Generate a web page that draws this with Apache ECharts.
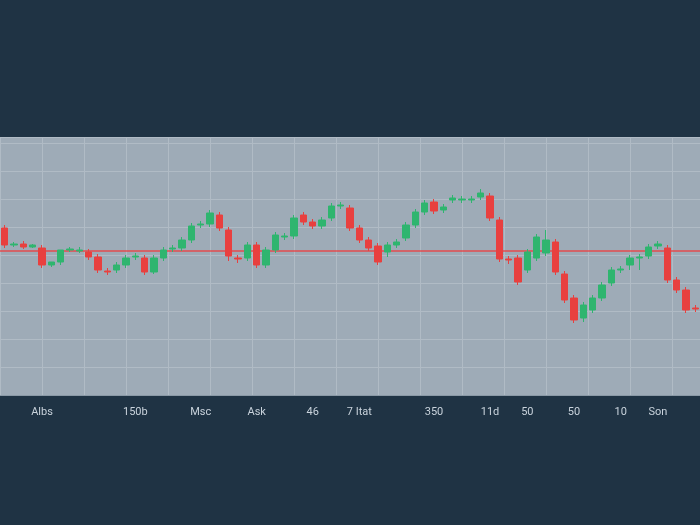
<!DOCTYPE html>
<html><head><meta charset="utf-8">
<script src="https://cdn.jsdelivr.net/npm/echarts@6/dist/echarts.min.js"></script>
<style>html,body{margin:0;background:#1f3344}#c{width:700px;height:525px}</style>
</head><body><div id="c"></div>
<script>
// candles: open / close / low / high
var opens  = [167,150,151,148,147,130,133,145,144,143,138,124,125,130,138,137,123,137,146,147,155,170,171,180,165,137,137,150,130,145,158,159,180,173,169,177,189,187,167,155,149,143,150,157,170,183,193,185,195,195,195,198,199,175,136,137,125,137,142,153,121,97,77,85,97,112,125,130,137,139,149,147,115,105,87];
var closes = [150,151,148,150,130,133,145,146,145,138,125,123,130,137,139,123,137,145,147,155,169,171,182,167,139,136,150,130,145,160,159,177,173,169,175,189,190,167,155,147,133,150,153,170,183,192,184,188,197,196,196,202,177,136,135,113,143,158,155,123,95,75,90,97,110,125,126,137,138,148,151,115,105,85,86];
var lows   = [147,148,146,147,127,128,130,143,142,135,122,120,122,127,135,120,121,134,143,144,152,167,168,164,134,132,134,127,127,142,155,156,170,166,166,174,186,164,152,144,130,138,147,154,167,180,181,182,192,192,192,195,174,133,131,110,122,134,139,120,92,72,73,82,94,109,122,125,125,136,146,112,102,82,83];
var highs  = [170,153,154,151,150,133,136,148,148,146,141,127,133,140,142,140,140,148,150,158,172,174,185,183,168,140,153,153,148,163,162,180,183,176,178,192,193,190,170,158,152,153,156,173,186,195,196,191,200,199,199,206,202,178,139,140,146,161,165,156,124,100,93,100,113,128,129,140,141,151,154,150,118,108,90];
var xLabels = {4:'Albs',14:'150b',21:'Msc',27:'Ask',33:'46',38:'7 Itat',46:'350',52:'11d',56:'50',61:'50',66:'10',70:'Son'};
var baseLine = 144;

var cats = [], data = [];
for (var i = 0; i < opens.length; i++) {
  cats.push(xLabels[i] || '');
  data.push([opens[i], closes[i], lows[i], highs[i]]);
}

var chart = echarts.init(document.getElementById('c'));
chart.setOption({
  backgroundColor: '#1f3344',
  animation: false,
  grid: {left: 0, right: 0, top: 137, bottom: 130, show: true, backgroundColor: '#9eabb7', borderWidth: 0},
  xAxis: [{
    type: 'category', data: cats, boundaryGap: true,
    axisLine: {lineStyle: {color: '#8a99a6'}},
    axisTick: {show: false},
    axisLabel: {interval: 0, color: '#c9d3dc', fontSize: 11, margin: 12, fontFamily: 'Roboto'},
    splitLine: {show: false}
  }, {
    type: 'value', min: 0, max: 700, interval: 42,
    axisLabel: {show: false}, axisLine: {show: false}, axisTick: {show: false},
    splitLine: {show: true, lineStyle: {color: '#b0bbc5', width: 1}}
  }],
  yAxis: {
    type: 'value', min: 0, max: 258, interval: 28,
    axisLabel: {show: false}, axisLine: {show: false}, axisTick: {show: false},
    splitLine: {lineStyle: {color: '#b0bbc5'}}
  },
  series: [{
    type: 'candlestick', data: data, barWidth: '70%', z: 3,
    itemStyle: {color: '#2fb56f', color0: '#e8403f', borderColor: '#2fb56f', borderColor0: '#e8403f'},
    markLine: {
      symbol: 'none', silent: true, label: {show: false}, z: 2,
      lineStyle: {color: '#ee3b3b', type: 'solid', width: 1.5, opacity: 0.85},
      data: [{yAxis: baseLine}]
    }
  }]
});
</script></body></html>
